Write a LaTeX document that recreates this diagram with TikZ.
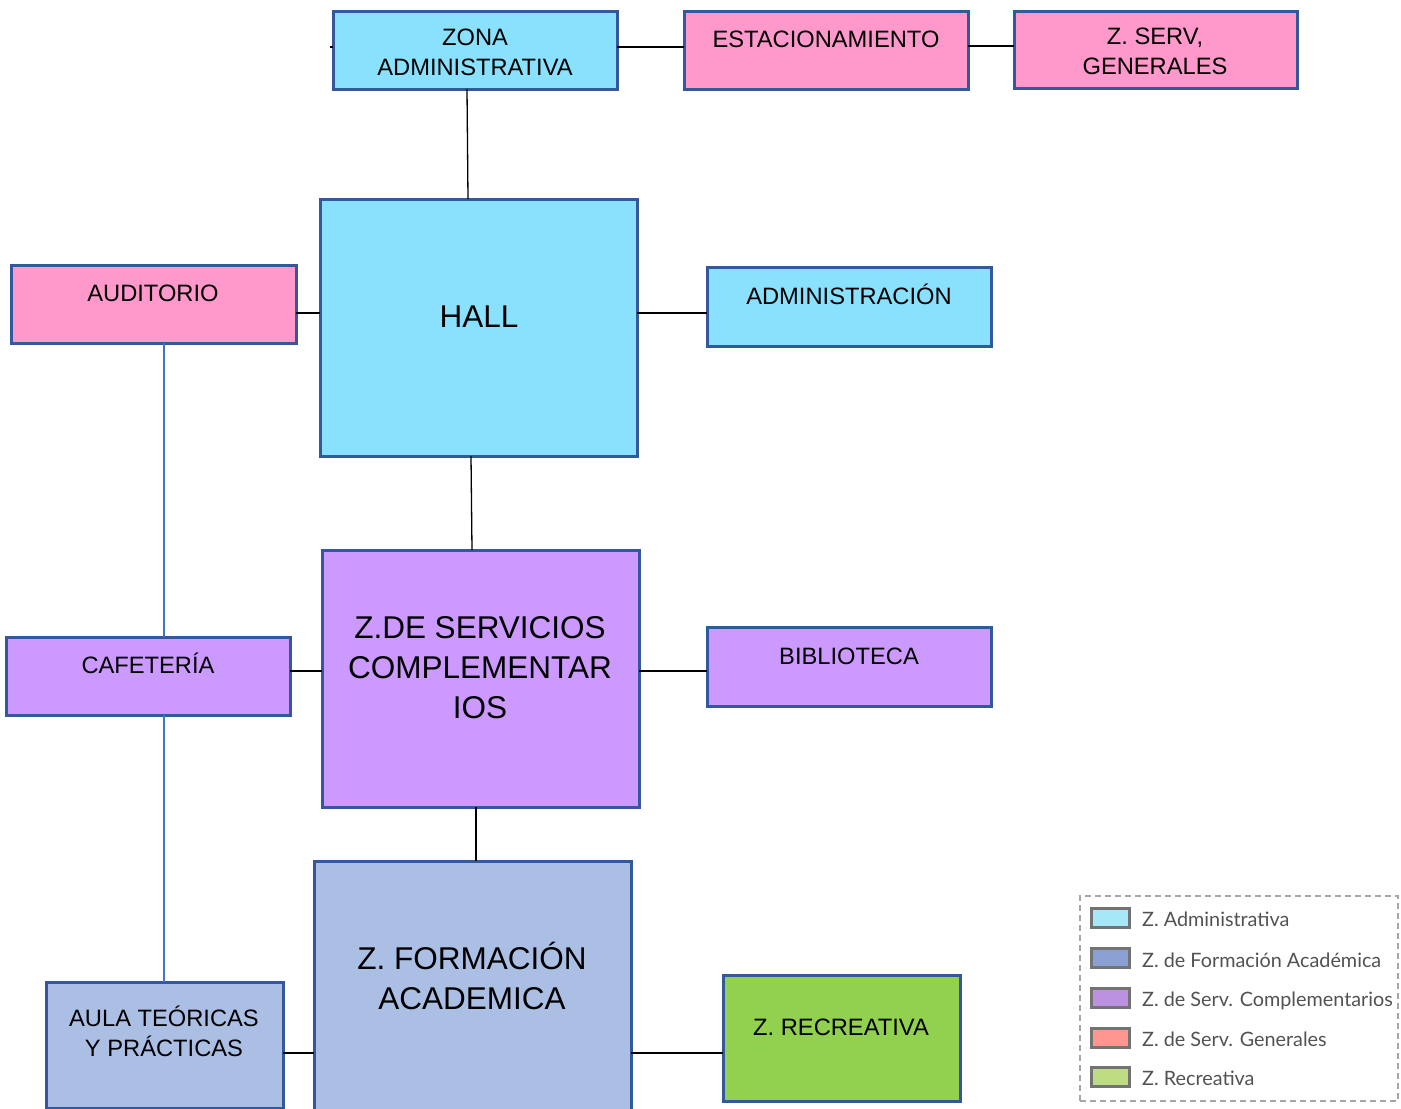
\documentclass[tikz,border=0pt]{standalone}
\usepackage{fontspec}
\setmainfont{Liberation Sans}
\newfontfamily\legendfont{Lato}
\usetikzlibrary{calc}

\definecolor{zcyan}{HTML}{8AE1FD}
\definecolor{zpink}{HTML}{FF99CC}
\definecolor{zlila}{HTML}{CC99FF}
\definecolor{zazul}{HTML}{ABBFE5}
\definecolor{zverde}{HTML}{92D050}
\definecolor{zborde}{HTML}{34589C}
\definecolor{zlink}{HTML}{4472C4}
\definecolor{lcyan}{HTML}{A6E7F8}
\definecolor{lazul}{HTML}{8A9FD2}
\definecolor{llila}{HTML}{BC92E0}
\definecolor{lsalmon}{HTML}{FF9690}
\definecolor{lverde}{HTML}{BEDC84}

\tikzset{
  zonebox/.style={draw=zborde, line width=3pt, rectangle, inner sep=0pt, outer sep=0pt, anchor=north west},
  small/.style={font=\fontsize{23.7}{30}\selectfont, align=center, anchor=base, inner sep=0pt},
  big/.style={font=\fontsize{31.5}{40}\selectfont, align=center, anchor=base, inner sep=0pt},
  link/.style={draw=black, line width=1.3pt},
  bluelink/.style={draw=zlink, line width=1.5pt},
  swatch/.style={draw=black!55, line width=2.2pt, rectangle, inner sep=0pt, outer sep=0pt, minimum width=38pt, minimum height=19pt},
  legtext/.style={font=\legendfont\fontsize{19.8}{24}\selectfont, text=black!68, anchor=west, inner sep=0pt}
}

\begin{document}
\begin{tikzpicture}[x=1pt, y=-1pt]
\useasboundingbox (0,0) rectangle (1401,1109);
\clip (0,0) rectangle (1401,1109);

% zone boxes
\node[zonebox, fill=zcyan,  minimum width=284pt, minimum height=78pt]  (zona)  at (333,11)  {};
\node[zonebox, fill=zpink,  minimum width=284pt, minimum height=78pt]  (estac) at (684,11)  {};
\node[zonebox, fill=zpink,  minimum width=283pt, minimum height=77pt]  (zserv) at (1014,11) {};
\node[zonebox, fill=zcyan,  minimum width=317pt, minimum height=257pt] (hall)  at (320,199) {};
\node[zonebox, fill=zpink,  minimum width=285pt, minimum height=78pt]  (audit) at (11,265)  {};
\node[zonebox, fill=zcyan,  minimum width=284pt, minimum height=79pt]  (admin) at (707,267) {};
\node[zonebox, fill=zlila,  minimum width=317pt, minimum height=257pt] (zsc)   at (322,550) {};
\node[zonebox, fill=zlila,  minimum width=284pt, minimum height=78pt]  (cafe)  at (6,637)   {};
\node[zonebox, fill=zlila,  minimum width=284pt, minimum height=79pt]  (biblio) at (707,627) {};
\node[zonebox, fill=zazul,  minimum width=317pt, minimum height=280pt] (zfa)   at (314,861) {};
\node[zonebox, fill=zazul,  minimum width=237pt, minimum height=126pt] (aula)  at (46,982)  {};
\node[zonebox, fill=zverde, minimum width=237pt, minimum height=126pt] (zrec)  at (723,975) {};

% labels (base = baseline of the last line)
\node[small] (zonaT)   at (475,75)    {ZONA\\ADMINISTRATIVA};
\node[small] (estacT)  at (826,47.5)  {ESTACIONAMIENTO};
\node[small] (zservT)  at (1155,74.5) {Z. SERV,\\GENERALES};
\node[small] (auditT)  at (153,301.5) {AUDITORIO};
\node[small] (adminT)  at (849,304.5) {ADMINISTRACIÓN};
\node[big]   (hallT)   at (479,327)   {HALL};
\node[big]   (zscT)    at (480,718)   {Z.DE SERVICIOS\\COMPLEMENTAR\\IOS};
\node[small] (cafeT)   at (148,673.5) {CAFETERÍA};
\node[small] (biblioT) at (849,664.5) {BIBLIOTECA};
\node[big]   (zfaT)    at (472,1009)  {Z. FORMACIÓN\\ACADEMICA};
\node[small] (aulaT)   at (164,1056.5) {AULA TEÓRICAS\\Y PRÁCTICAS};
\node[small] (zrecT)   at (841,1035.5) {Z. RECREATIVA};

% connectors
\coordinate (stub) at (330,47);
\draw[link] (stub) -- (zona.west |- stub);
\draw[link] (zona.east |- stub) -- (estac.west |- stub);
\draw[link] ($(estac.east)+(0,-4)$) -- ($(zserv.west)+(0,-3.5)$);
\draw[link] ([xshift=-8pt]zona.south) -- ([xshift=-10.5pt]hall.north);
\draw[link] (audit.east |- 0,313) -- (hall.west |- 0,313);
\draw[link] (hall.east |- 0,313) -- (admin.west |- 0,313);
\draw[link] ([xshift=-7.5pt]hall.south) -- ([xshift=-8.5pt]zsc.north);
\draw[link] (cafe.east |- 0,671) -- (zsc.west |- 0,671);
\draw[link] (zsc.east |- 0,671) -- (biblio.west |- 0,671);
\draw[link] ([xshift=-4.5pt]zsc.south) -- ([xshift=3.5pt]zfa.north);
\draw[link] (aula.east |- 0,1053) -- (zfa.west |- 0,1053);
\draw[link] (zfa.east |- 0,1053) -- (zrec.west |- 0,1053);
\draw[bluelink] ([xshift=10.5pt]audit.south) -- ([xshift=16pt]cafe.north);
\draw[bluelink] ([xshift=16pt]cafe.south) -- ([xshift=-0.5pt]aula.north);

% legend
\node[draw=black!35, line width=1.2pt, dash pattern=on 6pt off 4pt, rectangle, inner sep=0pt, outer sep=0pt,
      minimum width=318pt, minimum height=205pt, anchor=north west] (legend) at (1080,896) {};
\node[swatch, fill=lcyan]   (s1) at (1110.5,918)  {};
\node[swatch, fill=lazul]   (s2) at (1110.5,958)  {};
\node[swatch, fill=llila]   (s3) at (1110.5,998)  {};
\node[swatch, fill=lsalmon] (s4) at (1110.5,1038) {};
\node[swatch, fill=lverde]  (s5) at (1110.5,1077) {};
\node[legtext] (l1) at (1142,919)  {Z. Administrativa};
\node[legtext] (l2) at (1142,960)  {Z. de Formación Académica};
\node[legtext] (l3) at (1142,1001) {Z. de Serv. Complementarios};
\node[legtext] (l4) at (1142,1039) {Z. de Serv. Generales};
\node[legtext] (l5) at (1142,1078) {Z. Recreativa};
\end{tikzpicture}
\end{document}
